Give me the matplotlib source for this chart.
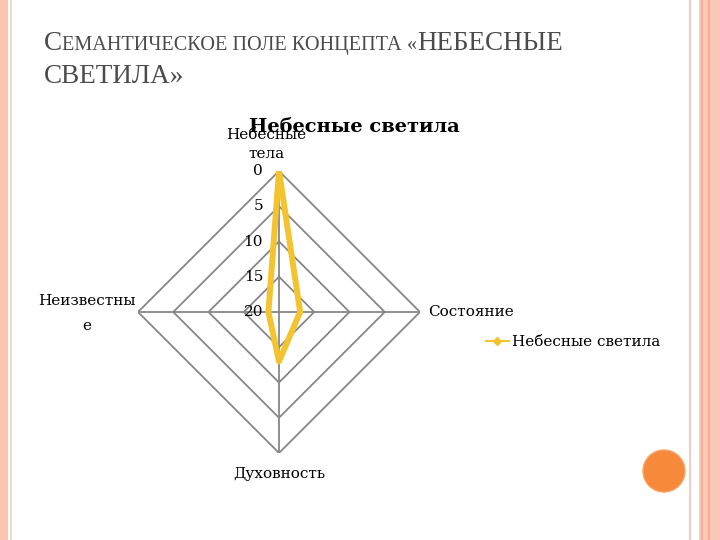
"""Radar chart slide: semantic field of the concept 'celestial bodies'."""

import matplotlib

matplotlib.use("Agg")
import matplotlib.pyplot as plt
import numpy as np
from matplotlib.patches import Ellipse, Rectangle

categories = ["Небесные\nтела", "Состояние", "Духовность", "Неизвестны\nе"]
series_name = "Небесные светила"
values = [0, 17, 13, 18.5]
r_ticks = [0, 5, 10, 15, 20]

title_pieces = [
    ("С", 19.5), ("ЕМАНТИЧЕСКОЕ ПОЛЕ КОНЦЕПТА ", 14.6), ("«", 14.6), ("НЕБЕСНЫЕ", 19.5),
]
title_line2 = "СВЕТИЛА»"

GRID = "#878787"
GOLD = "#f4c430"
TEXT = "#4b4b4b"
SERIF = "DejaVu Serif"

fig = plt.figure(figsize=(7.2, 5.4), dpi=100)
fig.patch.set_facecolor("white")

# slide frame: pink strip on the left, stripes on the right
fig.patches.append(Rectangle((0, 0), 8 / 720, 1, transform=fig.transFigure,
                             facecolor="#f9c6b3", edgecolor="none"))
fig.patches.append(Rectangle((10 / 720, 0), 1.5 / 720, 1, transform=fig.transFigure,
                             facecolor="#f6d8cb", edgecolor="none"))
fig.patches.append(Rectangle((689 / 720, 0), 2 / 720, 1, transform=fig.transFigure,
                             facecolor="#f3cdbd", edgecolor="none"))
fig.patches.append(Rectangle((699 / 720, 0), 21 / 720, 1, transform=fig.transFigure,
                             facecolor="#fbc9b5", edgecolor="none"))
for sx in (701, 708):
    fig.patches.append(Rectangle((sx / 720, 0), 1.5 / 720, 1, transform=fig.transFigure,
                                 facecolor="#f2ae97", edgecolor="none"))
fig.patches.append(Ellipse((664 / 720, 1 - 471 / 540), 42 / 720, 42 / 540,
                           transform=fig.transFigure, facecolor="#f6893a",
                           edgecolor="#f9a46a", linewidth=1))

# slide title in small caps, pieces chained along one baseline
renderer = fig.canvas.get_renderer()
x = 44 / 720
for piece, size in title_pieces:
    t = fig.text(x, 1 - 50 / 540, piece, fontsize=size, family="Liberation Serif",
                 color=TEXT, va="baseline")
    bb = t.get_window_extent(renderer)
    x = bb.x1 / fig.bbox.width
fig.text(44 / 720, 1 - 83 / 540, title_line2, fontsize=19.5, family="Liberation Serif",
         color=TEXT, va="baseline")

# radar chart with reversed radial scale
ax = fig.add_axes([138 / 720, 87 / 540, 282 / 720, 282 / 540], projection="polar")
ax.set_theta_zero_location("N")
ax.set_theta_direction(-1)
ax.set_rlim(20, 0)
ax.grid(False)
ax.set_xticks([])
ax.set_yticks([])
ax.spines["polar"].set_visible(False)
ax.patch.set_alpha(0)

theta = np.arange(len(categories)) * 2 * np.pi / len(categories)
theta_closed = np.append(theta, theta[0])

for tick in r_ticks[:-1]:
    ax.plot(theta_closed, [tick] * len(theta_closed), color=GRID, lw=1.3, zorder=1)
for th in theta:
    ax.plot([th, th], [r_ticks[-1], r_ticks[0]], color=GRID, lw=1.3, zorder=1)

for tick in r_ticks:
    ax.annotate(str(tick), xy=(0, tick), xytext=(-11.5, 0), textcoords="offset points",
                ha="right", va="center", fontsize=11, family=SERIF, color="black")

ax.plot(theta_closed, values + values[:1], color=GOLD, lw=4.3, zorder=3,
        solid_joinstyle="round", label=series_name)

label_pos = [
    dict(xytext=(-9, 7), ha="center", va="bottom", linespacing=1.45),
    dict(xytext=(6, 0), ha="left", va="center", linespacing=1.45),
    dict(xytext=(0, -10), ha="center", va="top", linespacing=1.45),
    dict(xytext=(-37, -1), ha="center", va="center", linespacing=1.95),
]
for th, cat, pos in zip(theta, categories, label_pos):
    ax.annotate(cat, xy=(th, r_ticks[0]), textcoords="offset points", fontsize=11,
                family=SERIF, color="black", annotation_clip=False, **pos)

fig.text(354 / 720, 1 - 127 / 540, series_name, ha="center", va="center",
         fontsize=14, fontweight="bold", family=SERIF, color="black", zorder=5)

handle, = plt.plot([], [], color=GOLD, lw=1.5, marker="D", markersize=4,
                   markerfacecolor=GOLD)
fig.legend([handle], [series_name], loc="center left",
           bbox_to_anchor=(472 / 720, 1 - 342 / 540), frameon=False,
           prop=dict(family=SERIF, size=11), handlelength=1.5, handletextpad=0.2)

fig.savefig("out.png", dpi=100)
